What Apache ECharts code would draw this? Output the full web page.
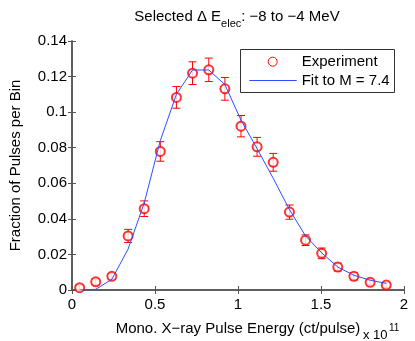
<!DOCTYPE html>
<html>
<head>
<meta charset="utf-8">
<script src="https://cdn.jsdelivr.net/npm/echarts@6/dist/echarts.min.js"></script>
<style>html,body{margin:0;padding:0;background:#fff;}#chart{width:415px;height:341px;}</style>
</head>
<body>
<div id="chart"></div>
<script>
const xValues = [0.046, 0.143, 0.240, 0.338, 0.435, 0.532, 0.629, 0.726, 0.824, 0.921, 1.018, 1.115, 1.212, 1.310, 1.407, 1.504, 1.601, 1.698, 1.796, 1.893];
const expValues = [0.0013, 0.0046, 0.0077, 0.0304, 0.0457, 0.0779, 0.1083, 0.1219, 0.1238, 0.1131, 0.0921, 0.0805, 0.0718, 0.0438, 0.0280, 0.0206, 0.0129, 0.0077, 0.0043, 0.0028];
const errValues = [0.0014, 0.0016, 0.0016, 0.0037, 0.0044, 0.0055, 0.0061, 0.0064, 0.0066, 0.0064, 0.0060, 0.0053, 0.0050, 0.0040, 0.0030, 0.0030, 0.0022, 0.0020, 0.0014, 0.0014];
const fitValues = [0.0000, 0.0004, 0.0060, 0.0230, 0.0489, 0.0840, 0.1100, 0.1237, 0.1237, 0.1155, 0.0955, 0.0795, 0.0628, 0.0452, 0.0304, 0.0209, 0.0129, 0.0083, 0.0055, 0.0037];
const legendNames = ['Experiment', 'Fit to M = 7.4'];

const FONT = 'Liberation Sans, Arial, Helvetica, sans-serif';
const RED = '#ff0000';
const BLUE = '#2e4dff';
const AXC = '#555';

const chart = echarts.init(document.getElementById('chart'));
const scatterData = xValues.map((x, i) => [x, expValues[i]]);
const errData = xValues.map((x, i) => [x, expValues[i] - errValues[i], expValues[i] + errValues[i]]);
const fitData = xValues.map((x, i) => [x, fitValues[i]]);

const axisCommon = {
  axisLine: { show: true, lineStyle: { color: AXC, width: 1.5 } },
  axisTick: { show: true, inside: true, length: 4, lineStyle: { color: AXC, width: 1 } },
  splitLine: { show: false }
};

chart.setOption({
  animation: false,
  backgroundColor: '#fff',
  textStyle: { fontFamily: FONT },
  title: {
    text: '{n|Selected Δ E}{s|elec}{n|: −8 to −4 MeV}',
    left: 232, top: 4, textAlign: 'center',
    textStyle: {
      fontWeight: 'normal',
      rich: {
        n: { fontSize: 15, color: '#000', fontFamily: FONT, fontWeight: 'normal', verticalAlign: 'top', lineHeight: 19 },
        s: { fontSize: 11, color: '#000', fontFamily: FONT, fontWeight: 'normal', verticalAlign: 'top', lineHeight: 19, padding: [9, 0, 0, 0] }
      }
    }
  },
  grid: { left: 60, right: 11, top: 41, bottom: 46, containLabel: false },
  xAxis: [
    Object.assign({}, axisCommon, {
      type: 'value', min: 0, max: 2, interval: 0.5, position: 'bottom',
      axisLabel: { fontSize: 15, color: '#000', margin: 7, fontFamily: FONT },
      name: 'Mono. X−ray Pulse Energy (ct/pulse)', nameLocation: 'middle', nameGap: 31,
      nameTextStyle: { fontSize: 15, color: '#000', fontFamily: FONT }
    }),
    Object.assign({}, axisCommon, {
      type: 'value', min: 0, max: 2, interval: 0.5, position: 'top',
      axisLabel: { show: false }
    })
  ],
  yAxis: [
    Object.assign({}, axisCommon, {
      type: 'value', min: 0, max: 0.14, interval: 0.02, position: 'left',
      axisLabel: { fontSize: 15, color: '#000', margin: 5, fontFamily: FONT },
      name: 'Fraction of Pulses per Bin', nameLocation: 'middle', nameGap: 49, nameRotate: 90,
      nameTextStyle: { fontSize: 15, color: '#000', fontFamily: FONT }
    }),
    Object.assign({}, axisCommon, {
      type: 'value', min: 0, max: 0.14, interval: 0.02, position: 'right',
      axisLabel: { show: false }
    })
  ],
  graphic: [
    { type: 'text', x: 363, y: 335, style: { text: 'x 10', fontSize: 13, fontFamily: FONT, fill: '#000', verticalAlign: 'middle' } },
    { type: 'text', x: 389, y: 328, style: { text: '11', fontSize: 10, fontFamily: FONT, fill: '#000', verticalAlign: 'middle' } },
    {
      type: 'group', z: 100,
      children: [
        { type: 'rect', shape: { x: 240.5, y: 49.5, width: 154, height: 43 }, style: { fill: '#fff', stroke: '#333', lineWidth: 1 } },
        { type: 'circle', shape: { cx: 272.7, cy: 61.7, r: 4.5 }, style: { fill: 'none', stroke: RED, lineWidth: 1 } },
        { type: 'line', shape: { x1: 249.3, y1: 80.5, x2: 296.7, y2: 80.5 }, style: { stroke: BLUE, lineWidth: 1 } },
        { type: 'text', x: 301.7, y: 61.7, style: { text: legendNames[0], fontSize: 15, fontFamily: FONT, fill: '#000', verticalAlign: 'middle' } },
        { type: 'text', x: 301.7, y: 80.7, style: { text: legendNames[1], fontSize: 15, fontFamily: FONT, fill: '#000', verticalAlign: 'middle' } }
      ]
    }
  ],
  series: [
    {
      name: 'errbars', type: 'custom', data: errData, z: 3,
      renderItem: function (params, api) {
        const x = api.value(0);
        const lo = api.coord([x, api.value(1)]);
        const hi = api.coord([x, api.value(2)]);
        const w = 4;
        const st = { stroke: RED, lineWidth: 1 };
        return {
          type: 'group',
          children: [
            { type: 'line', shape: { x1: lo[0], y1: lo[1], x2: hi[0], y2: hi[1] }, style: st },
            { type: 'line', shape: { x1: lo[0] - w, y1: lo[1], x2: lo[0] + w, y2: lo[1] }, style: st },
            { type: 'line', shape: { x1: hi[0] - w, y1: hi[1], x2: hi[0] + w, y2: hi[1] }, style: st }
          ]
        };
      }
    },
    {
      name: legendNames[0], type: 'scatter', data: scatterData, z: 4,
      symbol: 'emptyCircle', symbolSize: 9,
      itemStyle: { color: RED, borderColor: RED, borderWidth: 1 }
    },
    {
      name: legendNames[1], type: 'line', data: fitData, z: 5,
      symbol: 'none', showSymbol: false,
      lineStyle: { color: BLUE, width: 1 }, itemStyle: { color: BLUE }
    }
  ]
});
</script>
</body>
</html>
